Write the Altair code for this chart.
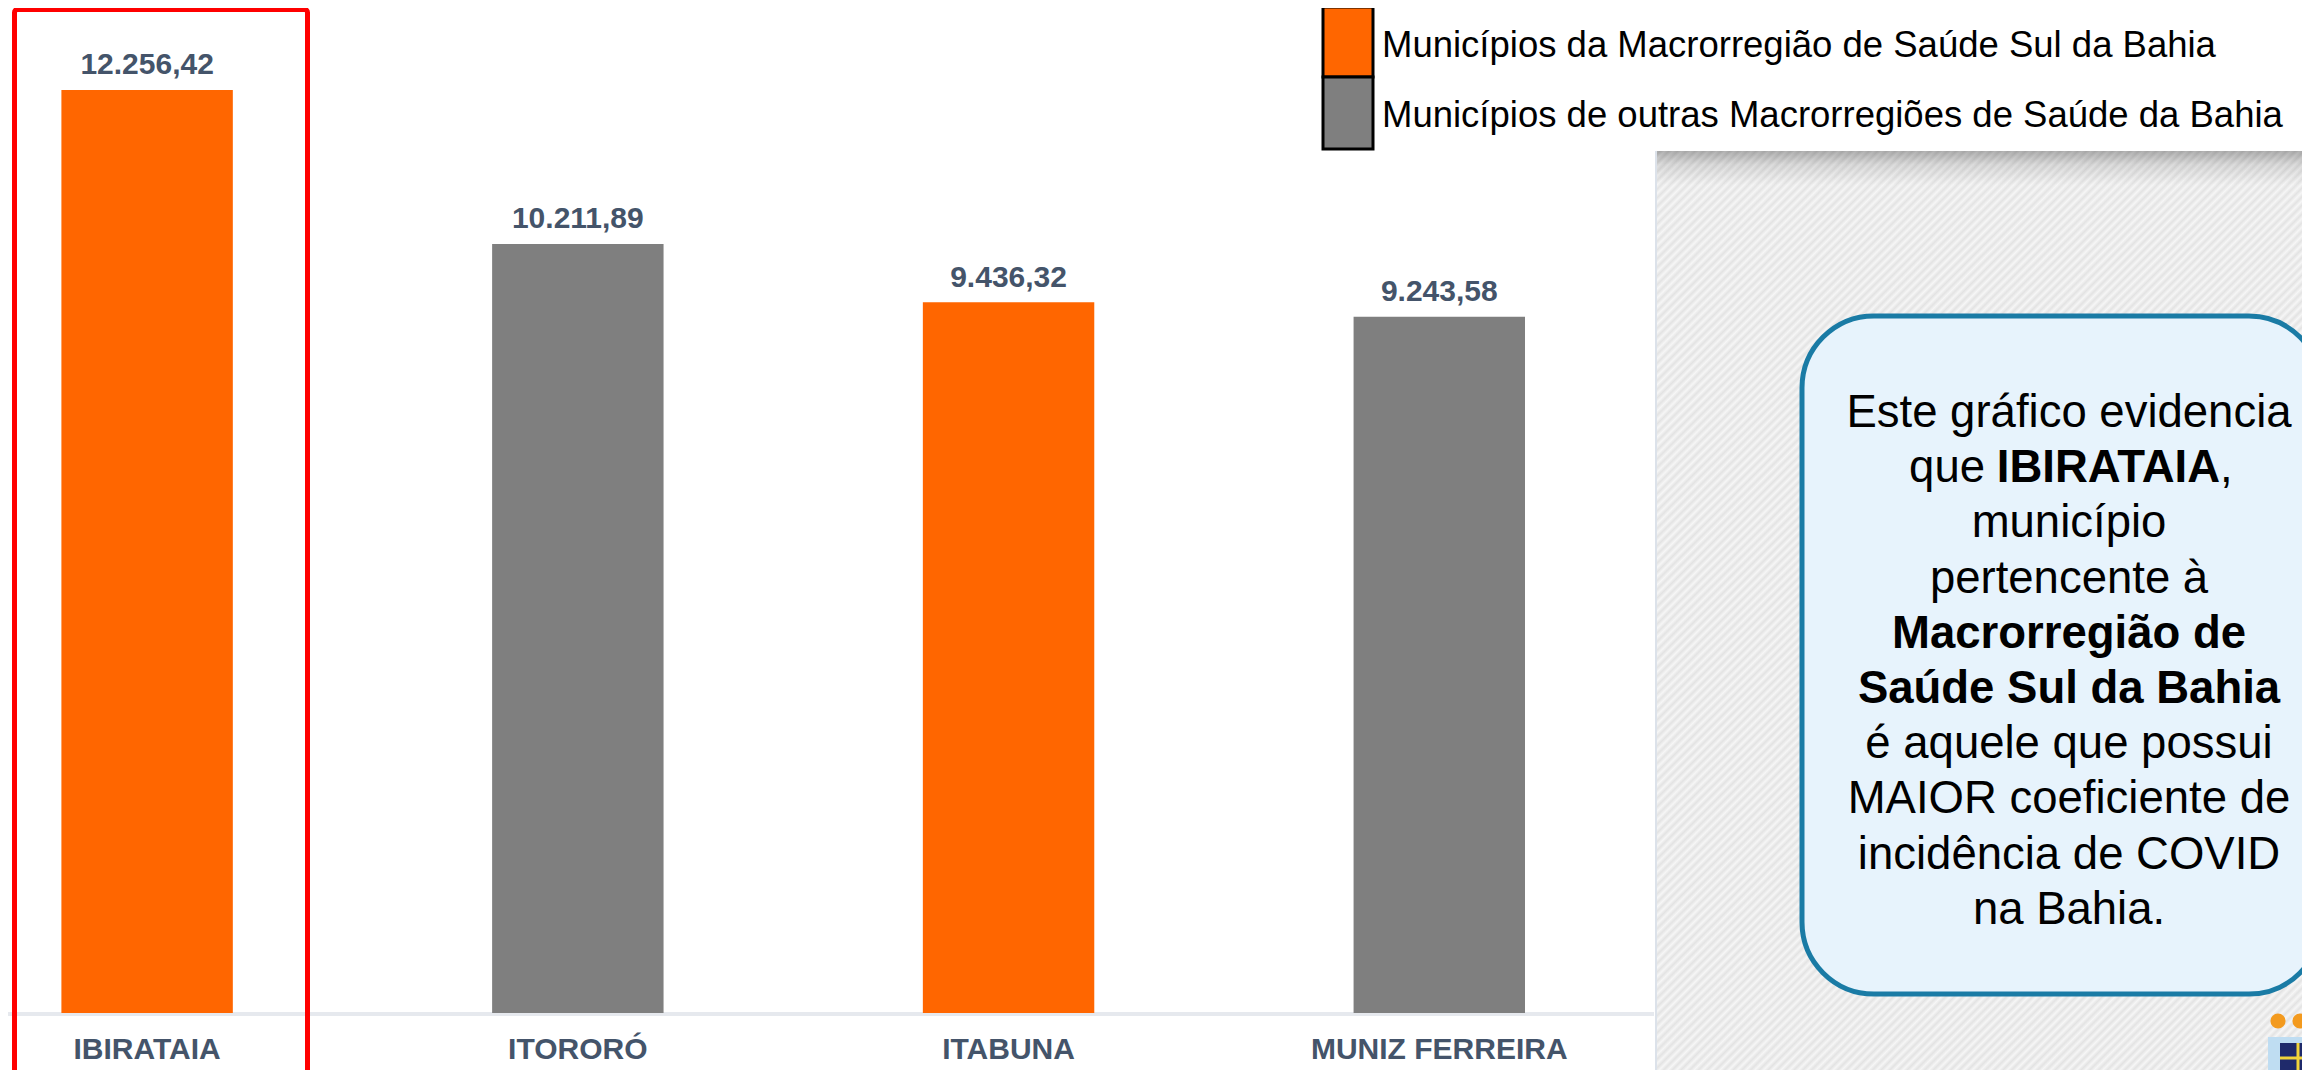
import altair as alt
import pandas as pd

# ---------------- data ----------------
municipios = ["IBIRATAIA", "ITORORÓ", "ITABUNA", "MUNIZ FERREIRA"]
valores = [12256.42, 10211.89, 9436.32, 9243.58]
grupos = ["Sul", "Outras", "Sul", "Outras"]

legenda_rotulos = [
    "Municípios da Macrorregião de Saúde Sul da Bahia",
    "Municípios de outras Macrorregiões de Saúde da Bahia",
]
grupo_dominio = ["Sul", "Outras"]
grupo_cores = ["#FF6600", "#7F7F7F"]

# callout lines: list of (text, bold)
callout_lines = [
    [("Este gráfico evidencia", False)],
    [("que", False), ("IBIRATAIA", True), (",", False)],
    [("município", False)],
    [("pertencente à", False)],
    [("Macrorregião de", True)],
    [("Saúde Sul da Bahia", True)],
    [("é aquele que possui", False)],
    [("MAIOR coeficiente de", False)],
    [("incidência de COVID", False)],
    [("na Bahia.", False)],
]


def br(v):
    return f"{v:,.2f}".replace(",", "X").replace(".", ",").replace("X", ".")


df = pd.DataFrame({
    "municipio": municipios,
    "valor": valores,
    "grupo": grupos,
    "rotulo": [br(v) for v in valores],
})

W, H = 2294, 1062
FONT = "Liberation Sans"
LABEL_COLOR = "#44546A"

one = pd.DataFrame({"k": [0]})


def box(x, x2, y, y2, **kw):
    return alt.Chart(one).mark_rect(**kw).encode(
        x=alt.value(x), x2=alt.value(x2), y=alt.value(y), y2=alt.value(y2)
    )


def txt(s, x, y, **kw):
    return alt.Chart(pd.DataFrame({"t": [s]})).mark_text(font=FONT, **kw).encode(
        x=alt.value(x), y=alt.value(y), text="t:N"
    )


# ---------------- scales ----------------
xenc = alt.X(
    "municipio:N", sort=municipios, axis=None,
    scale=alt.Scale(type="band", range=[53.4, 1517], paddingInner=0.602, paddingOuter=0),
)
yenc = alt.Y(
    "valor:Q", axis=None,
    scale=alt.Scale(domain=[0, 13345], range=[1005, 0], nice=False, zero=True),
)
cenc = alt.Color(
    "grupo:N", legend=None,
    scale=alt.Scale(domain=grupo_dominio, range=grupo_cores),
)

# ---------------- background panel (hatched) ----------------
px0, px1, py0, py1 = 1648, W, 143, H
pw, ph = px1 - px0, py1 - py0
total = pw + ph * (ph / pw)  # X+Y pixel units covered by the gradient vector
period = 8.7
n = int(total / period)
stops = []
for i in range(n + 1):
    o1 = i * period / total
    o2 = (i + 0.5) * period / total
    if o1 <= 1:
        stops.append(alt.GradientStop(color="#F6F6F6", offset=o1))
    if o2 <= 1:
        stops.append(alt.GradientStop(color="#E3E3E3", offset=o2))
hatch = box(px0, px1, py0, py1, fill=alt.LinearGradient(
    gradient="linear", stops=stops, x1=0, y1=0, x2=1, y2=ph / pw))

shadow = box(px0, px1, py0, py0 + 34, fill=alt.LinearGradient(
    gradient="linear",
    stops=[alt.GradientStop(color="rgba(0,0,0,0.28)", offset=0),
           alt.GradientStop(color="rgba(0,0,0,0.10)", offset=0.4),
           alt.GradientStop(color="rgba(0,0,0,0)", offset=1)],
    x1=0, y1=0, x2=0, y2=1))

legend_bg = box(px0 - 2, px1, 0, py0, fill="#FFFFFF")
divider = alt.Chart(one).mark_rule(color="#DCE2EA", strokeWidth=2).encode(
    x=alt.value(px0), y=alt.value(py0), y2=alt.value(H))

baseline = alt.Chart(one).mark_rule(color="#E6E9EE", strokeWidth=4).encode(
    x=alt.value(0), x2=alt.value(px0 - 2), y=alt.value(1006))

# ---------------- bars & labels ----------------
base = alt.Chart(df)
bars = base.mark_bar().encode(x=xenc, y=yenc, color=cenc)
vals = base.mark_text(
    font=FONT, fontSize=30, fontWeight="bold", color=LABEL_COLOR,
    baseline="alphabetic", dy=-15.5,
).encode(x=xenc, y=yenc, text="rotulo:N")
cats = base.mark_text(
    font=FONT, fontSize=30, fontWeight="bold", color=LABEL_COLOR,
    baseline="alphabetic",
).encode(x=xenc, y=alt.value(1051), text="municipio:N")

redbox = box(6.5, 299.5, 1.5, 1100, fillOpacity=0, stroke="#FF0000",
             strokeWidth=5, cornerRadius=3)

# ---------------- legend ----------------
leg_layers = []
sw_y = [(-1, 69), (69, 141)]
tx_y = [49, 119]
for i, lab in enumerate(legenda_rotulos):
    leg_layers.append(box(1315, 1365, sw_y[i][0], sw_y[i][1], fill=grupo_cores[i],
                          stroke="#000000", strokeWidth=3))
    leg_layers.append(txt(lab, 1374, tx_y[i], fontSize=36.5, color="#000000",
                          align="left", baseline="alphabetic"))

# ---------------- callout ----------------
callout = box(1794, 2313, 308, 986, fill="#E7F3FC", stroke="#1A7BA5",
              strokeWidth=5, cornerRadius=72)
cx = 2061
CF = 45.5
c_layers = []
for i, segs in enumerate(callout_lines):
    yb = 419 + 55.2 * i
    if len(segs) == 1:
        s, b = segs[0]
        c_layers.append(txt(s, cx, yb, fontSize=CF, color="#000000", align="center",
                            baseline="alphabetic",
                            fontWeight="bold" if b else "normal"))
    else:
        comma_x = 2212
        c_layers.append(txt(segs[1][0], comma_x, yb, fontSize=CF, color="#000000",
                            align="right", baseline="alphabetic", fontWeight="bold"))
        c_layers.append(txt(segs[2][0], comma_x, yb, fontSize=CF, color="#000000",
                            align="left", baseline="alphabetic"))
        c_layers.append(txt(segs[0][0], 1977, yb, fontSize=CF,
                            color="#000000", align="right", baseline="alphabetic"))

# ---------------- small logo ----------------
logo = [
    box(2260, 2302, 1029, 1070, fill="#BFDDF2"),
    box(2272, 2302, 1035, 1070, fill="#1F2A6B"),
    alt.Chart(one).mark_rule(color="#F2D43A", strokeWidth=3).encode(
        x=alt.value(2272), x2=alt.value(2302), y=alt.value(1050)),
    alt.Chart(one).mark_rule(color="#F2D43A", strokeWidth=3).encode(
        x=alt.value(2290), y=alt.value(1035), y2=alt.value(1070)),
    alt.Chart(one).mark_circle(color="#F39A1E", opacity=1, size=230).encode(
        x=alt.value(2270), y=alt.value(1013)),
    alt.Chart(one).mark_circle(color="#F39A1E", opacity=1, size=230).encode(
        x=alt.value(2292), y=alt.value(1013)),
]

chart = alt.layer(
    hatch, shadow, legend_bg, divider, baseline,
    bars, vals, cats, redbox,
    *leg_layers, callout, *c_layers, *logo,
).properties(
    width=W, height=H,
    autosize=alt.AutoSizeParams(type="none"),
    padding=0,
    background="#FFFFFF",
).configure_view(stroke=None)

chart.save("out.html", embed_options={"renderer": "svg", "actions": False})
